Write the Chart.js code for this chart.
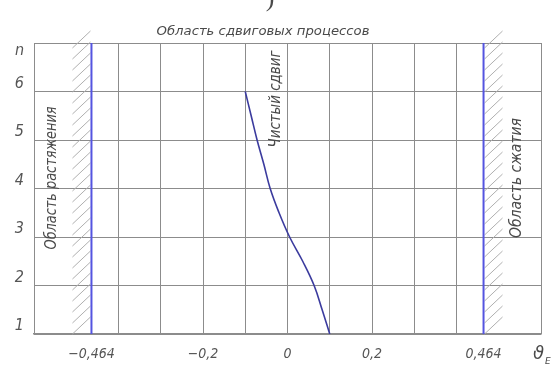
<!DOCTYPE html>
<html>
<head>
<meta charset="utf-8">
<script src="https://cdn.jsdelivr.net/npm/chart.js@4.4.0/dist/chart.umd.min.js"></script>
<style>
  html, body { margin: 0; padding: 0; background: #fff; }
</style>
</head>
<body>
<canvas id="shearChart" width="553" height="367"></canvas>
<script>
// pure shear line: n (vertical) against ϑ_E (horizontal)
const nValues = [1, 1.5, 2, 2.5, 3, 3.5, 4, 4.5, 5, 5.5, 6];
const shearValues = [0.100, 0.082, 0.063, 0.036, 0.005, -0.020, -0.041, -0.056, -0.072, -0.086, -0.100];

// boundaries of the tension / compression zones
const limitValue = 0.464;

const gridX = [-0.6, -0.4, -0.3, -0.2, -0.1, 0, 0.1, 0.2, 0.3, 0.4, 0.6];
const xTickValues = [-0.464, -0.2, 0, 0.2, 0.464];
const xTickLabels = ['\u22120,464', '\u22120,2', '0', '0,2', '0,464'];
const yTickLabels = ['1', '2', '3', '4', '5', '6', 'n'];

const inkColor = '#4a4a4a';
const gridColor = '#8c8c8c';
const drawFont = "'Liberation Sans Narrow', 'DejaVu Sans Condensed', 'Liberation Sans', sans-serif";

function vText(ctx, text, x, y, size, len) {
    ctx.save();
    ctx.translate(x, y);
    ctx.rotate(-Math.PI / 2);
    ctx.font = 'italic ' + size + 'px ' + drawFont;
    ctx.textAlign = 'center';
    ctx.textBaseline = 'middle';
    const w = ctx.measureText(text).width;
    ctx.scale(len / w, 1);
    ctx.fillText(text, 0, 0);
    ctx.restore();
}

const notes = {
    id: 'notes',
    beforeDraw(chart) {
        const ctx = chart.ctx;
        ctx.save();
        ctx.fillStyle = '#fff';
        ctx.fillRect(0, 0, chart.width, chart.height);
        ctx.restore();
    },
    beforeDatasetsDraw(chart) {
        // hatching outside the zone boundaries
        const { ctx, chartArea, scales } = chart;
        const left = scales.x.getPixelForValue(-limitValue);
        const right = scales.x.getPixelForValue(limitValue);
        ctx.save();
        ctx.strokeStyle = '#b0b0b0';
        ctx.lineWidth = 1;
        ctx.beginPath();
        for (let y = chartArea.bottom; y > chartArea.top - 2; y -= 11) {
            ctx.moveTo(left - 19, y);
            ctx.lineTo(left - 1, y - 17);
            ctx.moveTo(right + 1, y);
            ctx.lineTo(right + 19, y - 17);
        }
        ctx.stroke();
        ctx.restore();
    },
    afterDatasetsDraw(chart) {
        const ctx = chart.ctx;
        ctx.save();
        ctx.fillStyle = inkColor;

        // caption remnant above the drawing
        ctx.font = '26px "Liberation Serif", serif';
        ctx.textAlign = 'center';
        ctx.textBaseline = 'alphabetic';
        ctx.fillText(')', 270, 6);

        // header
        ctx.font = 'italic 13px ' + drawFont;
        ctx.textBaseline = 'middle';
        const title = 'Область сдвиговых процессов';
        const tw = ctx.measureText(title).width;
        ctx.save();
        ctx.translate(263, 32);
        ctx.scale(213 / tw, 1);
        ctx.fillText(title, 0, 0);
        ctx.restore();

        vText(ctx, 'Область растяжения', 52, 178, 15, 143);
        vText(ctx, 'Область сжатия', 517, 178, 15, 120);
        vText(ctx, 'Чистый сдвиг', 276, 99, 15, 97);

        // axis symbol ϑ_E
        ctx.textAlign = 'left';
        ctx.textBaseline = 'alphabetic';
        ctx.font = 'italic 18px "DejaVu Sans", sans-serif';
        ctx.fillText('\u03D1', 533, 359);
        ctx.font = 'italic 9px "DejaVu Sans", sans-serif';
        ctx.fillText('E', 545, 364);
        ctx.restore();
    }
};

const ctx = document.getElementById('shearChart').getContext('2d');
const shearChart = new Chart(ctx, {
    type: 'scatter',
    data: {
        datasets: [
            {
                label: 'Чистый сдвиг',
                data: nValues.map((n, i) => ({ x: shearValues[i], y: n })),
                showLine: true,
                tension: 0.4,
                borderColor: '#3b3b9e',
                borderWidth: 1.6,
                pointRadius: 0
            },
            {
                label: 'Растяжение',
                data: [{ x: -limitValue, y: 1 }, { x: -limitValue, y: 7 }],
                showLine: true,
                borderColor: '#5454e0',
                borderWidth: 2,
                pointRadius: 0
            },
            {
                label: 'Сжатие',
                data: [{ x: limitValue, y: 1 }, { x: limitValue, y: 7 }],
                showLine: true,
                borderColor: '#5454e0',
                borderWidth: 2,
                pointRadius: 0
            }
        ]
    },
    options: {
        responsive: false,
        animation: false,
        layout: { padding: { top: 43, right: 11, left: 0, bottom: 0 } },
        plugins: {
            legend: { display: false },
            tooltip: { enabled: false }
        },
        scales: {
            x: {
                type: 'linear',
                min: -0.6,
                max: 0.6,
                afterBuildTicks(scale) {
                    const vals = gridX.concat(xTickValues)
                        .filter((v, i, a) => a.indexOf(v) === i)
                        .sort((a, b) => a - b);
                    scale.ticks = vals.map(v => ({ value: v }));
                },
                afterFit(scale) { scale.height = 33; },
                grid: {
                    color: c => (c.tick && Math.abs(Math.abs(c.tick.value) - limitValue) < 1e-6) ? 'rgba(0,0,0,0)' : gridColor,
                    lineWidth: 1,
                    drawTicks: false
                },
                border: { color: gridColor, width: 1.5 },
                ticks: {
                    autoSkip: false,
                    maxRotation: 0,
                    padding: 12,
                    color: '#555',
                    font: { family: drawFont, size: 14, style: 'italic' },
                    callback: v => {
                        const i = xTickValues.findIndex(t => Math.abs(t - v) < 1e-6);
                        return i >= 0 ? xTickLabels[i] : '';
                    }
                }
            },
            y: {
                type: 'linear',
                min: 1,
                max: 7,
                afterFit(scale) { scale.width = 34; },
                grid: { color: gridColor, lineWidth: 1, drawTicks: false },
                border: { color: gridColor, width: 1 },
                ticks: {
                    stepSize: 1,
                    padding: 10,
                    color: '#555',
                    font: { family: drawFont, size: 16, style: 'italic', lineHeight: 1 },
                    callback: v => {
                        const label = yTickLabels[v - 1];
                        return v === 7 ? ['', label] : [label, ''];
                    }
                }
            }
        }
    },
    plugins: [notes]
});
</script>
</body>
</html>
